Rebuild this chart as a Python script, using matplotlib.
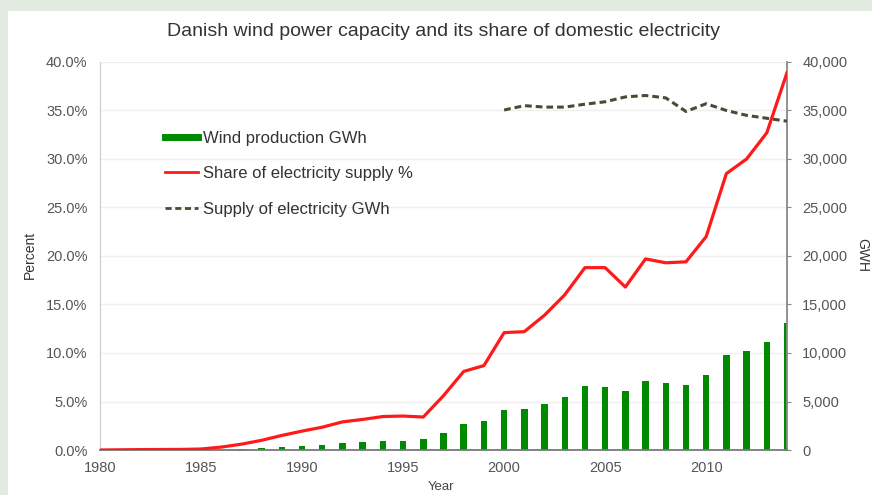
import matplotlib.pyplot as plt
from matplotlib.lines import Line2D
from matplotlib.patches import Rectangle
from matplotlib.ticker import FuncFormatter

plt.rcParams['font.family'] = ['Liberation Sans', 'DejaVu Sans']

years = list(range(1980, 2015))

# share of electricity supply, percent
share = [0.0, 0.02, 0.04, 0.05, 0.06, 0.1, 0.3, 0.6, 1.0, 1.5,
         1.95, 2.35, 2.9, 3.15, 3.45, 3.5, 3.4, 5.6, 8.1, 8.7,
         12.1, 12.2, 13.9, 16.0, 18.8, 18.8, 16.8, 19.7, 19.3, 19.4,
         22.0, 28.5, 30.0, 32.7, 38.9]

# wind production, GWh
wind = [0, 0, 0, 0, 0, 20, 40, 80, 170, 270,
        460, 540, 740, 800, 950, 960, 1100, 1750, 2700, 2950,
        4150, 4250, 4780, 5500, 6560, 6530, 6050, 7080, 6930, 6700,
        7780, 9750, 10170, 11100, 13100]

# supply of electricity, GWh (from 2000)
supply_years = list(range(2000, 2015))
supply = [35050, 35500, 35350, 35350, 35650, 35900, 36400, 36550, 36300, 34900,
          35700, 35000, 34500, 34200, 33900]

fig = plt.figure(figsize=(8.72, 4.95), dpi=100)
fig.patch.set_facecolor('#e2ebe0')
fig.patches.append(Rectangle((8 / 872, 0), 1, 1 - 11 / 495, transform=fig.transFigure,
                             facecolor='white', edgecolor='none', zorder=-10))

ax = fig.add_axes([100 / 872, 1 - 450 / 495, 687 / 872, 388 / 495])
ax2 = ax.twinx()
ax.set_zorder(ax2.get_zorder() + 1)
ax.patch.set_visible(False)

ax2.bar(years, wind, width=0.32, color='#008a00', zorder=2)
ax2.plot(supply_years, supply, color='#4a4a36', lw=2.2, dashes=(2.2, 1.3), zorder=3)
ax.plot(years, share, color='#ff1a1a', lw=2.3, zorder=4)

ax.set_xlim(1980, 2014)
ax.set_ylim(0, 40)
ax2.set_ylim(0, 40000)
ax.set_xticks(range(1980, 2011, 5))
ax.set_yticks(range(0, 41, 5))
ax2.set_yticks(range(0, 40001, 5000))
ax.yaxis.set_major_formatter(FuncFormatter(lambda v, p: f"{v:.1f}%"))
ax2.yaxis.set_major_formatter(FuncFormatter(lambda v, p: f"{int(v):,}"))

ax2.yaxis.grid(True, color='#efefef', lw=1)
ax2.set_axisbelow(True)

tc = '#555555'
ax.tick_params(axis='y', length=0, pad=9, labelsize=10.5, labelcolor=tc)
ax.tick_params(axis='x', length=0, pad=8, labelsize=10.5, labelcolor=tc)
ax2.tick_params(axis='y', length=3, pad=8, labelsize=10.5, labelcolor=tc, color='#888888')

for a in (ax, ax2):
    a.spines['top'].set_visible(False)
ax.spines['right'].set_visible(False)
ax.spines['left'].set_color('#cccccc')
ax.spines['bottom'].set_color('#777777')
ax.spines['bottom'].set_linewidth(1.3)
ax2.spines['left'].set_visible(False)
ax2.spines['bottom'].set_visible(False)
ax2.spines['right'].set_color('#888888')
ax2.spines['right'].set_linewidth(1.3)

fig.text(443 / 872, 1 - 32 / 495, "Danish wind power capacity and its share of domestic electricity",
         ha='center', va='center', fontsize=14, color='#333333')
fig.text(30 / 872, 1 - 255 / 495, "Percent", rotation=90, ha='center', va='center',
         fontsize=10, color='#333333')
fig.text(862 / 872, 1 - 255 / 495, "GWH", rotation=270, ha='center', va='center',
         fontsize=10, color='#333333')
fig.text(441 / 872, 1 - 487 / 495, "Year", ha='center', va='center', fontsize=9.5, color='#444444')

handles = [Line2D([], [], color='#008a00', lw=5),
           Line2D([], [], color='#ff1a1a', lw=2),
           Line2D([], [], color='#4a4a36', lw=2, dashes=(2.2, 1.3))]
labels = ["Wind production GWh", "Share of electricity supply %", "Supply of electricity GWh"]
ax.legend(handles, labels, loc='upper left', bbox_to_anchor=(165 / 872, 1 - 131 / 495),
          bbox_transform=fig.transFigure, frameon=False, fontsize=12, borderpad=0,
          borderaxespad=0, labelspacing=1.22, handlelength=2.0, handletextpad=0.3,
          labelcolor='#333333')

fig.savefig("out.png", dpi=100, facecolor=fig.get_facecolor())
